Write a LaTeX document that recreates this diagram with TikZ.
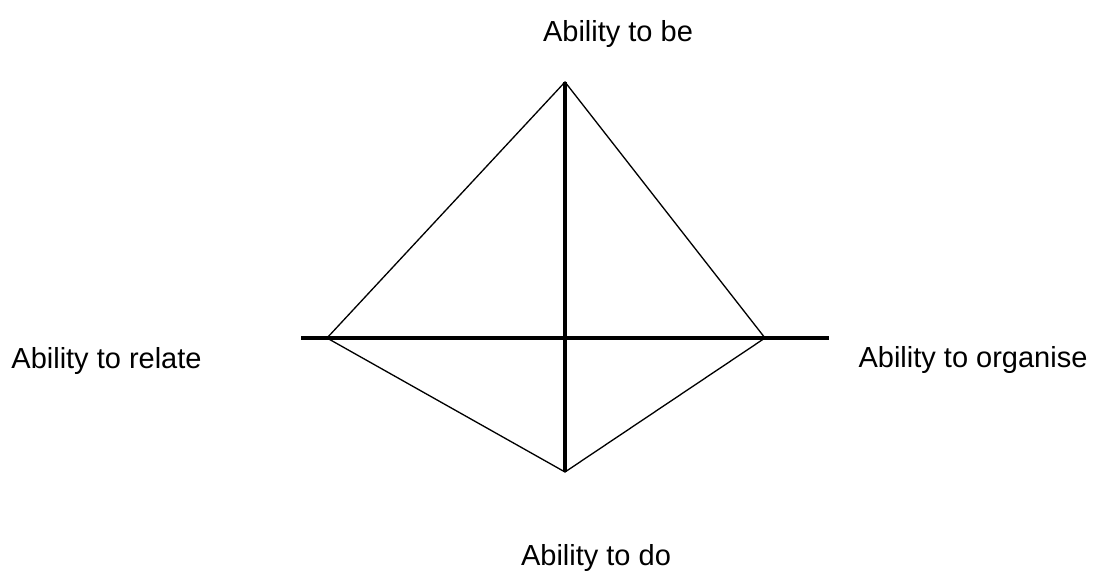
\documentclass[tikz,border=0pt]{standalone}
\usepackage{fontspec}
\setmainfont{Liberation Sans}

\begin{document}
\begin{tikzpicture}[font=\fontsize{16.5}{19.8}\selectfont,lab/.style={anchor=base,inner sep=0pt}]
\useasboundingbox (0,0) rectangle (21.92,11.4);
\coordinate (be) at (11.3,9.76);
\coordinate (do) at (11.3,1.96);
\coordinate (rel) at (6.54,4.64);
\coordinate (org) at (15.3,4.64);
\coordinate (hl) at (6.02,4.64);
\coordinate (hr) at (16.58,4.64);
\node[lab] (lbe) at (12.36,10.56) {Ability to be};
\node[lab] (ldo) at (11.92,0.1) {Ability to do};
\node[lab] (lrel) at (2.13,4.04) {Ability to relate};
\node[lab] (lorg) at (19.46,4.06) {Ability to organise};
\draw[line width=.75pt] (rel)--(be)--(org)--(do)--cycle;
\draw[line width=1.8pt] (be)--(do);
\draw[line width=2.4pt] (hl)--(hr);
\end{tikzpicture}
\end{document}
